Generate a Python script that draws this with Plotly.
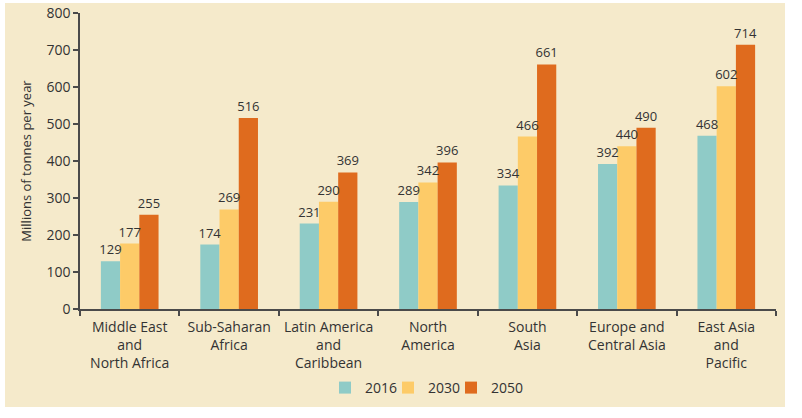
import plotly.graph_objects as go

categories = ["Middle East<br>and<br>North Africa", "Sub-Saharan<br>Africa",
              "Latin America<br>and<br>Caribbean", "North<br>America", "South<br>Asia",
              "Europe and<br>Central Asia", "East Asia<br>and<br>Pacific"]
series_names = ["2016", "2030", "2050"]
values_2016 = [129, 174, 231, 289, 334, 392, 468]
values_2030 = [177, 269, 290, 342, 466, 440, 602]
values_2050 = [255, 516, 369, 396, 661, 490, 714]
colors = ["#8FCBC7", "#FDCB68", "#DF6B1E"]

FONT = "Open Sans"
TXT = "#333333"
FS = 14

W, H = 802, 418
PL, PR, PT, PB = 80, 776, 13, 309          # plot area in page pixels
L, T, R, B = PL, PT, W - PR, H - PB
pw, ph = W - L - R, H - T - B

def px_x(x):
    return (x - L) / pw

def px_y(y):
    return (H - B - y) / ph

all_vals = [values_2016, values_2030, values_2050]
groups = ["g0", "g1", "g2"]

fig = go.Figure()
# coloured bars
for name, vals, col, g in zip(series_names, all_vals, colors, groups):
    fig.add_trace(go.Bar(
        x=categories, y=vals, name=name, offsetgroup=g,
        marker=dict(color=col, line=dict(width=0)),
    ))
# value labels drawn on top of all bars
for name, vals, g in zip(series_names, all_vals, groups):
    fig.add_trace(go.Bar(
        x=categories, y=vals, name=name, offsetgroup=g, showlegend=False,
        marker=dict(color="rgba(0,0,0,0)", line=dict(width=0)),
        text=[str(v) for v in vals], textposition="outside", cliponaxis=False,
        constraintext="none", hoverinfo="skip",
        textfont=dict(family=FONT, size=13, color=TXT),
    ))
# empty spacer entry so the compact legend is not clipped
fig.add_trace(go.Scatter(x=[None], y=[None], mode="markers", name=" ",
                         marker=dict(color="rgba(0,0,0,0)"), hoverinfo="skip"))

fig.add_shape(type="rect", xref="paper", yref="paper",
              x0=px_x(5), x1=px_x(785), y0=px_y(407), y1=px_y(3),
              fillcolor="#F5EACB", line=dict(width=0), layer="below")

fig.update_layout(
    width=W, height=H,
    margin=dict(l=L, r=R, t=T, b=B, autoexpand=False),
    paper_bgcolor="white", plot_bgcolor="rgba(0,0,0,0)",
    barmode="group", bargap=0.42, bargroupgap=0,
    font=dict(family=FONT, size=FS, color=TXT),
    showlegend=True,
    legend=dict(orientation="h", x=px_x(325), xanchor="left", y=px_y(388), yanchor="middle",
                bgcolor="rgba(0,0,0,0)", font=dict(family=FONT, size=FS, color=TXT),
                itemwidth=30, traceorder="normal", entrywidth=18, entrywidthmode="pixels"),
)
fig.update_xaxes(showline=True, linecolor="#4a4a4a", linewidth=1.5,
                 ticks="outside", tickson="boundaries", ticklen=5, tickcolor="#4a4a4a",
                 tickwidth=1.5, showgrid=False, ticklabelstandoff=4,
                 tickfont=dict(family=FONT, size=FS, color=TXT))
fig.update_yaxes(range=[0, 800], dtick=100, showline=True, linecolor="#4a4a4a", linewidth=1.5,
                 ticks="outside", ticklen=5, tickcolor="#4a4a4a", tickwidth=1.5,
                 showgrid=False, zeroline=False, ticklabeloverflow="allow",
                 tickfont=dict(family=FONT, size=FS, color=TXT),
                 title=dict(text="Millions of tonnes per year", standoff=12,
                            font=dict(family=FONT, size=13, color=TXT)))

fig.write_html("out.html", config={"displayModeBar": False},
               post_script="document.body.style.margin='0';document.body.style.overflow='hidden';")
